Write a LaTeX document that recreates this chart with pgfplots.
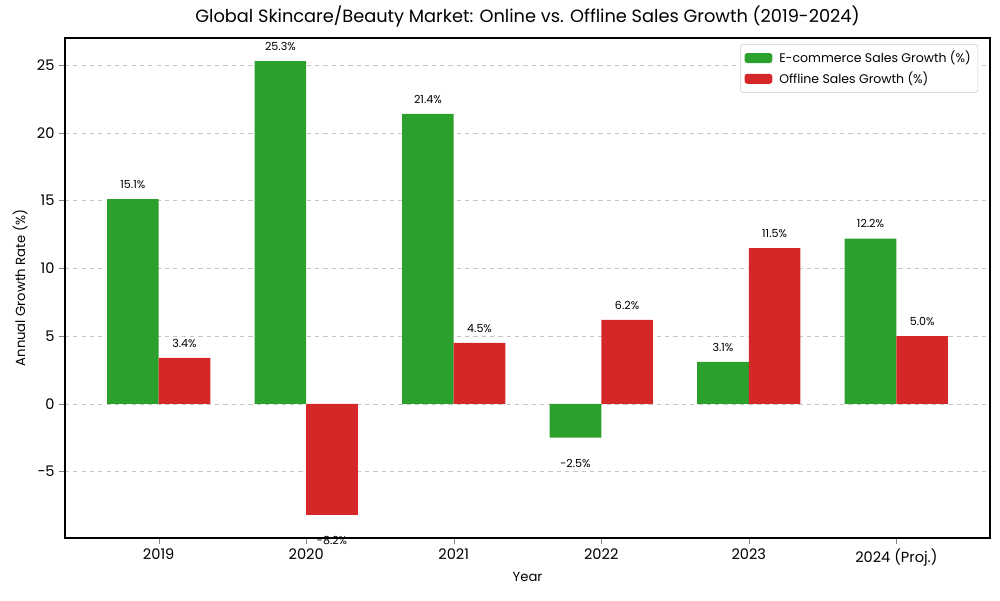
\documentclass[border=0pt]{standalone}
\usepackage{fontspec}
\setmainfont{Poppins}
\usepackage{pgfplots}
\pgfplotsset{compat=1.18}
\definecolor{cgreen}{HTML}{2CA02C}
\definecolor{cred}{HTML}{D62728}
\begin{document}
\begin{tikzpicture}
\path[use as bounding box] (-46.8pt,-44.64pt) rectangle (673.2pt,387.36pt);
\begin{axis}[
  at={(0,0)}, anchor=south west,
  scale only axis, width=666pt, height=360pt,
  ybar=0pt, bar width=0.35,
  xmin=-0.635, xmax=5.635, ymin=-9.9, ymax=27.0,
  xtick={0,1,2,3,4,5},
  xticklabels={2019,2020,2021,2022,2023,2024 (Proj.)},
  ytick={-5,0,5,10,15,20,25},
  yticklabels={−5,0,5,10,15,20,25},
  tick label style={font=\fontsize{10.5}{13}\selectfont},
  tick align=outside, tick pos=left,
  major tick length=4pt,
  ymajorgrids, grid style={dashed, gray!45, line width=0.5pt},
  axis line style={line width=0.8pt},
  title={Global Skincare/Beauty Market: Online vs. Offline Sales Growth (2019-2024)},
  title style={font=\fontsize{12.8}{15}\selectfont, yshift=-2pt},
  xlabel={Year}, ylabel={Annual Growth Rate (\%)},
  label style={font=\fontsize{9.5}{12}\selectfont},
  xlabel style={yshift=2pt},
  ylabel style={yshift=0pt},
  legend style={at={(1,1)}, anchor=north east, xshift=-8.6pt, yshift=-4.3pt,
     font=\fontsize{9}{11}\selectfont, draw=gray!40, rounded corners=2pt,
     inner sep=3pt, row sep=1pt, legend cell align=left,
     /tikz/every even column/.append style={column sep=2pt}},
  legend image code/.code={\fill[#1] (0pt,-3.6pt) rectangle (20pt,3.6pt);},
  /pgf/number format/assume math mode=true,
  nodes near coords={\pgfmathprintnumber[fixed,fixed zerofill,precision=1]{\pgfplotspointmeta}\%},
  visualization depends on={y \as \rawy},
  every node near coord/.append style={font=\fontsize{8}{10}\selectfont, anchor=center,
     yshift={ifthenelse(\rawy<0,-18.7,10.5)}},
]
\addplot[fill=cgreen, draw=none]
  coordinates {(0,15.1) (1,25.3) (2,21.4) (3,-2.5) (4,3.1) (5,12.2)};
\addlegendentry{\hspace{3pt}E-commerce Sales Growth (\%)}
\addplot[fill=cred, draw=none]
  coordinates {(0,3.4) (1,-8.2) (2,4.5) (3,6.2) (4,11.5) (5,5.0)};
\addlegendentry{\hspace{3pt}Offline Sales Growth (\%)}
\end{axis}
\end{tikzpicture}
\end{document}
